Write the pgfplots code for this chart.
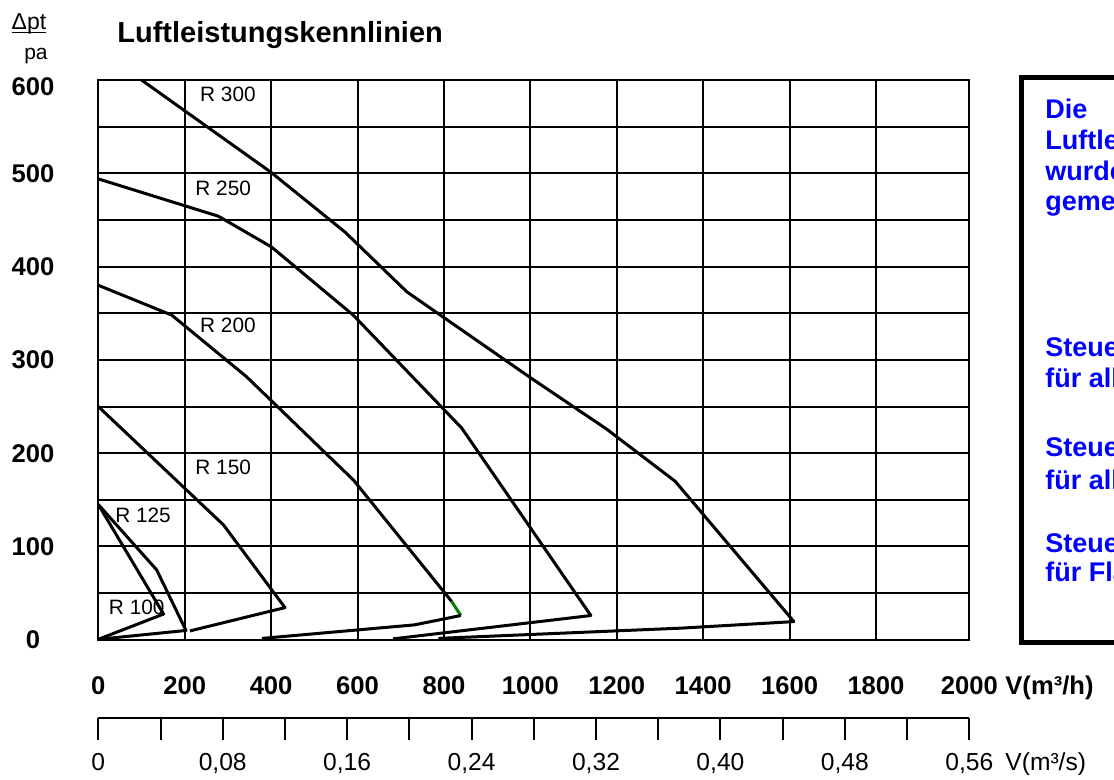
\documentclass[border=0pt]{standalone}
\usepackage{fontspec}
\setmainfont{Liberation Sans}
\usepackage{pgfplots}
\pgfplotsset{compat=1.18}
\definecolor{boxblue}{RGB}{0,0,255}
\definecolor{tipgreen}{RGB}{0,128,0}
\pgfplotsset{kline/.style={black, line width=1.5pt, mark=none, line join=round, solid}}

\begin{document}
\begin{tikzpicture}
\useasboundingbox (-49.15pt,-70.1pt) rectangle (507.85pt,319.9pt);
\clip (-49.15pt,-70.1pt) rectangle (507.85pt,319.9pt);
\begin{axis}[
  at={(0pt,0pt)}, anchor=south west,
  scale only axis, width=435.5pt, height=279.9pt,
  xmin=0, xmax=2016, ymin=0, ymax=600,
  clip=false,
  xtick={0,200,400,600,800,1000,1200,1400,1600,1800,2016},
  xticklabels={0,200,400,600,800,1000,1200,1400,1600,1800,2000},
  ytick={0,50,100,150,200,250,300,350,400,450,500,550,600},
  yticklabels={0,,100,,200,,300,,400,,500,,\raisebox{0pt}[\dimexpr\height+7pt\relax][\depth]{600}},
  grid=major,
  grid style={black, line width=1pt},
  axis line style={black, line width=1pt},
  major tick length=0pt,
  xticklabel style={font=\fontsize{12.8}{15}\selectfont\bfseries, anchor=base, yshift=-27.5pt},
  yticklabel style={font=\fontsize{12.8}{15}\selectfont\bfseries, anchor=center, xshift=-32.65pt},
]
% R 300
\addplot[kline] coordinates {(100,600) (400,501) (571,437) (714,373) (1000,281) (1176,226) (1335,170) (1610,19.5) (1349,12.5) (787,1.5)};
% R 250
\addplot[kline] coordinates {(0,494) (278,454) (401,421) (590,348) (841,227) (1140,26) (682,1)};
% R 200
\addplot[kline] coordinates {(0,380) (170,348) (343,282) (591,171) (818,41)};
\addplot[kline, tipgreen] coordinates {(818,41) (839,26)};
\addplot[kline] coordinates {(839,26) (732,16) (379,1.5)};
% R 150
\addplot[kline] coordinates {(0,250) (290,123) (432,34.5) (212,9.5)};
% R 125
\addplot[kline] coordinates {(0,145) (135,75) (203,10) (0,0.5)};
% R 100
\addplot[kline] coordinates {(0,145) (151,27.6) (0,0.5)};

\node[font=\fontsize{10.4}{12}\selectfont] at (axis cs:300,585) {R 300};
\node[font=\fontsize{10.4}{12}\selectfont] at (axis cs:289,484) {R 250};
\node[font=\fontsize{10.4}{12}\selectfont] at (axis cs:300,336.7) {R 200};
\node[font=\fontsize{10.4}{12}\selectfont] at (axis cs:289,184.5) {R 150};
\node[font=\fontsize{10.4}{12}\selectfont] at (axis cs:103.5,133.8) {R 125};
\node[font=\fontsize{10.4}{12}\selectfont] at (axis cs:89,34.4) {R 100};
\end{axis}

\begin{axis}[
  at={(0pt,-39.35pt)}, anchor=south west,
  scale only axis, width=435.5pt, height=20pt,
  xmin=0, xmax=0.56, ymin=0, ymax=1,
  axis x line*=bottom, axis y line=none,
  x axis line style={-, black, line width=1pt},
  xtick={0,0.04,0.08,0.12,0.16,0.2,0.24,0.28,0.32,0.36,0.4,0.44,0.48,0.52,0.56},
  xticklabels={0,,{0,08},,{0,16},,{0,24},,{0,32},,{0,40},,{0,48},,{0,56}},
  tick align=outside, major tick length=10.75pt,
  tick style={black, line width=1pt},
  xticklabel style={font=\fontsize{12.3}{14}\selectfont, anchor=base, yshift=-15.5pt},
]
\end{axis}

% axis titles
\node[anchor=base west, inner sep=0pt, font=\fontsize{14.5}{17}\selectfont\bfseries] at (9.35pt,298.4pt) {Luftleistungskennlinien};
\node[anchor=base, font=\fontsize{11.5}{13}\selectfont, inner sep=0pt] at (-34.65pt,304.9pt) {\underline{\smash{Δpt}}};
\node[anchor=base, font=\fontsize{10.5}{12}\selectfont, inner sep=0pt] at (-31.15pt,289.9pt) {pa};
\node[anchor=base west, inner sep=0pt, font=\fontsize{12.8}{15}\selectfont\bfseries] at (453.35pt,-27.6pt) {V(m³/h)};
\node[anchor=base west, inner sep=0pt, font=\fontsize{12.3}{14}\selectfont] at (453.35pt,-65.6pt) {V(m³/s)};

% info box (cut off at the right edge as in the original)
\draw[line width=2.5pt, black] (461.35pt,-1.6pt) rectangle (530pt,280.9pt);
\begin{scope}[every node/.style={anchor=base west, inner sep=0pt, text=boxblue, font=\fontsize{13.5}{16}\selectfont\bfseries}]
\node at (473.35pt,260.4pt) {Die};
\node at (473.35pt,244.9pt) {Luftleistungen};
\node at (473.35pt,229.4pt) {wurden};
\node at (473.35pt,214.4pt) {gemessen};
\node at (473.35pt,141.4pt) {Steuerung};
\node at (473.35pt,125.9pt) {für alle};
\node at (473.35pt,91.4pt) {Steuerung};
\node at (473.35pt,74.9pt) {für alle};
\node at (473.35pt,43.4pt) {Steuerung};
\node at (473.35pt,28.9pt) {für Flachkanal};
\end{scope}
\end{tikzpicture}
\end{document}
